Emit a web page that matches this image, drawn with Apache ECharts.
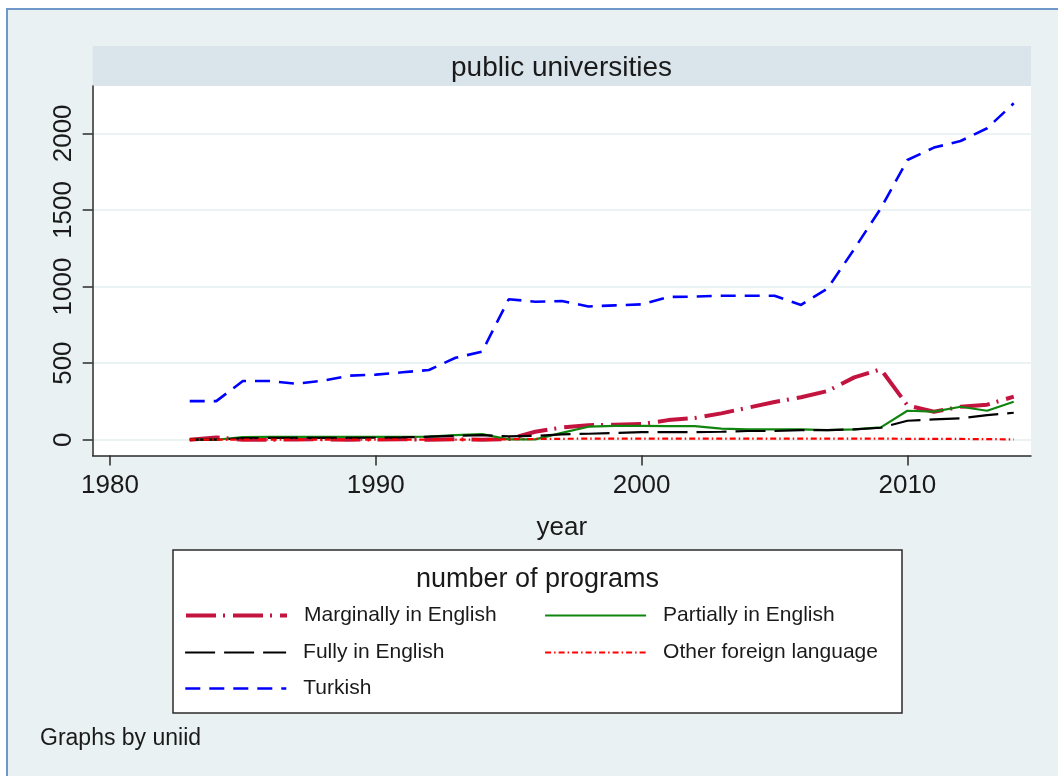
<!DOCTYPE html>
<html>
<head>
<meta charset="utf-8">
<script src="https://cdn.jsdelivr.net/npm/echarts@6/dist/echarts.min.js"></script>
<style>
  html, body { margin: 0; padding: 0; background: #ffffff; }
  #chart { width: 1058px; height: 776px; }
</style>
</head>
<body>
<div id="chart"></div>
<script>
// Program counts at public universities, by language of instruction
const years = [1983, 1984, 1985, 1986, 1987, 1988, 1989, 1990, 1991, 1992, 1993, 1994, 1995, 1996, 1997, 1998,
               1999, 2000, 2001, 2002, 2003, 2004, 2005, 2006, 2007, 2008, 2009, 2010, 2011, 2012, 2013, 2014];

const marginallyEnglish = [0, 15, 0, 0, 2, 3, 0, 2, 3, 0, 3, 0, 5, 52, 80, 95,
                           98, 102, 128, 142, 172, 209, 246, 277, 318, 407, 460, 224, 183, 215, 229, 281];
const partiallyEnglish  = [0, 0, 17, 18, 18, 18, 18, 18, 18, 20, 30, 37, 2, 2, 45, 85,
                           91, 91, 89, 89, 72, 68, 68, 68, 63, 68, 81, 189, 183, 215, 189, 248];
const fullyEnglish      = [0, 0, 10, 12, 12, 12, 12, 13, 15, 20, 25, 30, 22, 25, 35, 39,
                           44, 50, 50, 50, 52, 57, 57, 63, 63, 68, 78, 124, 133, 140, 161, 176];
const otherForeign      = [0, 0, 0, 0, 0, 0, 0, 0, 0, 0, 0, 0, 3, 5, 6, 7,
                           7, 7, 7, 7, 7, 7, 7, 7, 7, 7, 7, 6, 6, 5, 4, 2];
const turkish           = [252, 252, 383, 383, 365, 385, 418, 425, 440, 455, 535, 575, 917, 901, 905, 870,
                           877, 884, 932, 934, 940, 940, 940, 880, 988, 1245, 1510, 1826, 1907, 1950, 2033, 2196];

const xTicks = [1980, 1990, 2000, 2010];
const yTicks = [0, 500, 1000, 1500, 2000];

const seriesNames = ['Marginally in English', 'Partially in English', 'Fully in English',
                     'Other foreign language', 'Turkish'];

const FONT = "'Liberation Sans', Arial, Helvetica, sans-serif";
const INK = '#1a1a1a';

function pairs(values) {
  return years.map((y, i) => [y, values[i]]);
}

const chart = echarts.init(document.getElementById('chart'), null, { renderer: 'canvas' });

// one legend block per key entry so the two-column layout can be placed exactly
function legendEntry(name, left, top, width) {
  return {
    data: [name],
    left: left,
    top: top,
    orient: 'horizontal',
    itemWidth: 101,
    itemHeight: 24,
    selectedMode: false,
    padding: 0,
    itemStyle: { opacity: 0, borderWidth: 0 },
    lineStyle: { width: width },
    textStyle: { fontSize: 21, color: INK, fontFamily: FONT, padding: [0, 0, 0, 12] }
  };
}

const option = {
  animation: false,
  backgroundColor: 'transparent',
  textStyle: { fontFamily: FONT },
  grid: {
    left: 92.7, right: 27, top: 86, bottom: 320.5,
    show: true, backgroundColor: '#ffffff', borderWidth: 0,
    outerBoundsMode: 'none'
  },
  graphic: [
    { type: 'rect', z: -100, silent: true,
      shape: { x: 7, y: 9, width: 1200, height: 900 },
      style: { fill: '#E9F1F3', stroke: '#6F97C9', lineWidth: 2 } },
    { type: 'rect', z: -50, silent: true,
      shape: { x: 92.7, y: 46, width: 938.3, height: 40 },
      style: { fill: '#D9E5EB' } },
    { type: 'text', z: 10, silent: true, x: 561.5, y: 68,
      style: { text: 'public universities', fill: INK, font: '28px ' + FONT,
               textAlign: 'center', textVerticalAlign: 'middle' } },
    { type: 'rect', z: 1, silent: true,
      shape: { x: 173, y: 550, width: 729, height: 163 },
      style: { fill: '#ffffff', stroke: '#2b2b2b', lineWidth: 1.5 } },
    { type: 'text', z: 10, silent: true, x: 537.5, y: 580,
      style: { text: 'number of programs', fill: INK, font: '27px ' + FONT,
               textAlign: 'center', textVerticalAlign: 'middle' } },
    { type: 'text', z: 10, silent: true, x: 40, y: 739,
      style: { text: 'Graphs by uniid', fill: INK, font: '23px ' + FONT,
               textAlign: 'left', textVerticalAlign: 'middle' } }
  ],
  legend: [
    legendEntry(seriesNames[0], 184, 605, 4),
    legendEntry(seriesNames[1], 544, 605, 2.2),
    legendEntry(seriesNames[2], 184, 642, 2.2),
    legendEntry(seriesNames[3], 544, 642, 2.2),
    legendEntry(seriesNames[4], 184, 678, 2.6)
  ],
  xAxis: {
    type: 'value',
    min: 1979.35,
    max: 2014.65,
    name: 'year',
    nameLocation: 'middle',
    nameGap: 59,
    nameTextStyle: { fontSize: 26, color: INK, fontFamily: FONT },
    axisLine: { show: true, onZero: false, lineStyle: { color: '#2b2b2b', width: 1.5 } },
    axisTick: { show: true, length: 10, customValues: xTicks, lineStyle: { color: '#2b2b2b', width: 1.5 } },
    axisLabel: { customValues: xTicks, margin: 17, fontSize: 26, color: INK, fontFamily: FONT,
                 formatter: v => String(v) },
    splitLine: { show: false }
  },
  yAxis: {
    type: 'value',
    min: -103,
    max: 2309,
    axisLine: { show: true, lineStyle: { color: '#2b2b2b', width: 1.5 } },
    axisTick: { show: true, length: 10, customValues: yTicks, lineStyle: { color: '#2b2b2b', width: 1.5 } },
    axisLabel: { customValues: yTicks, rotate: 90, margin: 16, fontSize: 26, color: INK, fontFamily: FONT,
                 formatter: v => String(v) },
    splitLine: { show: true, lineStyle: { color: '#EAF2F3', width: 2 } }
  },
  series: [
    { name: seriesNames[0], type: 'line', symbol: 'none', data: pairs(marginallyEnglish),
      lineStyle: { color: '#C3133F', width: 4, type: [30, 7, 2, 8] }, itemStyle: { color: '#C3133F' } },
    { name: seriesNames[1], type: 'line', symbol: 'none', data: pairs(partiallyEnglish),
      lineStyle: { color: '#11850F', width: 2.2 }, itemStyle: { color: '#11850F' } },
    { name: seriesNames[2], type: 'line', symbol: 'none', data: pairs(fullyEnglish),
      lineStyle: { color: '#000000', width: 2.2, type: [30, 9] }, itemStyle: { color: '#000000' } },
    { name: seriesNames[3], type: 'line', symbol: 'none', data: pairs(otherForeign),
      lineStyle: { color: '#FF0000', width: 2.2, type: [6, 3, 1.5, 3] }, itemStyle: { color: '#FF0000' } },
    { name: seriesNames[4], type: 'line', symbol: 'none', data: pairs(turkish),
      lineStyle: { color: '#0000FF', width: 2.6, type: [15, 9] }, itemStyle: { color: '#0000FF' } }
  ]
};

chart.setOption(option);
</script>
</body>
</html>
